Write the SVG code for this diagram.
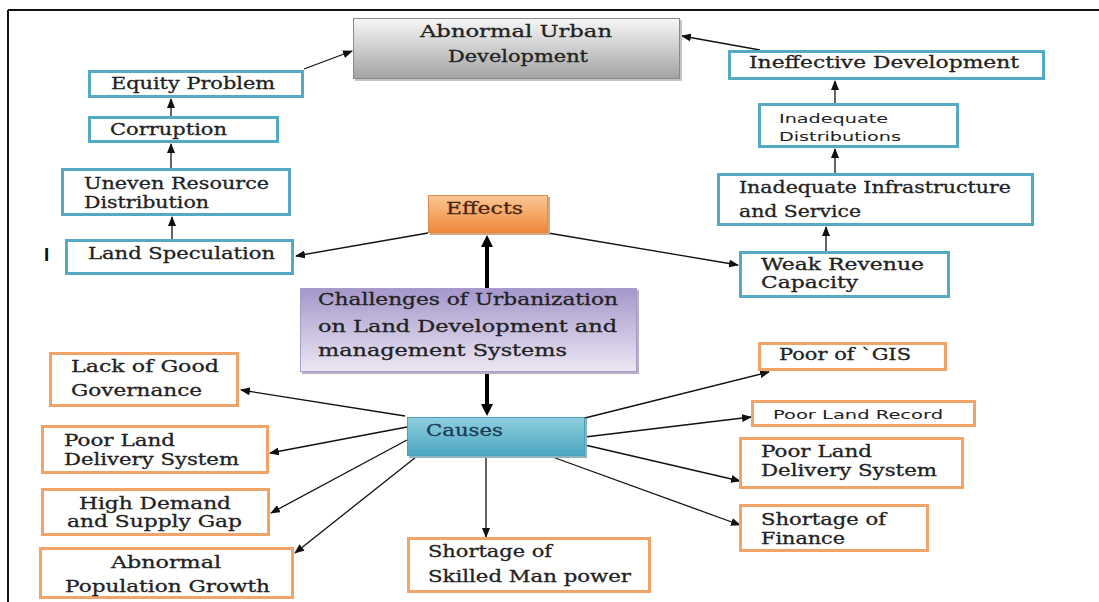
<svg xmlns="http://www.w3.org/2000/svg" width="1099" height="602" viewBox="0 0 1099 602">
<defs>
<linearGradient id="gGray" x1="0" y1="0" x2="0" y2="1"><stop offset="0" stop-color="#f7f7f7"/><stop offset="1" stop-color="#a3a3a3"/></linearGradient>
<linearGradient id="gOrange" x1="0" y1="0" x2="0" y2="1"><stop offset="0" stop-color="#fbc795"/><stop offset="1" stop-color="#f0873a"/></linearGradient>
<linearGradient id="gPurple" x1="0" y1="0" x2="0" y2="1"><stop offset="0" stop-color="#a597cb"/><stop offset="1" stop-color="#ece7f3"/></linearGradient>
<linearGradient id="gTeal" x1="0" y1="0" x2="0" y2="1"><stop offset="0" stop-color="#8fcfe0"/><stop offset="1" stop-color="#4aa6c0"/></linearGradient>
<marker id="ah" markerUnits="userSpaceOnUse" markerWidth="10" markerHeight="8" refX="9" refY="4" orient="auto"><path d="M0,0 L10,4 L0,8 z" fill="#111"/></marker>
<marker id="ahT" markerUnits="userSpaceOnUse" markerWidth="12" markerHeight="12" refX="4" refY="6" orient="auto"><path d="M0,0 L12,6 L0,12 z" fill="#000"/></marker>
<style>
.teal{fill:#fff;stroke:#55aac3;stroke-width:3}
.org{fill:#fff;stroke:#f2a468;stroke-width:3}
.t{font-family:"DejaVu Serif","Liberation Serif",serif;font-size:16.5px;fill:#222;stroke:#222;stroke-width:0.3}
.s{font-family:"DejaVu Sans","Liberation Sans",sans-serif;font-size:13px;fill:#222}
.c line{stroke:#111;stroke-width:1.3;marker-end:url(#ah)}
.c line.thick{stroke:#000;stroke-width:4;marker-end:url(#ahT)}
</style>
</defs>
<rect x="0" y="0" width="1099" height="602" fill="#fff"/>
<g id="frame"><line x1="8" y1="10" x2="1099" y2="10" stroke="#111" stroke-width="2"/><line x1="8" y1="10" x2="8" y2="602" stroke="#111" stroke-width="2"/></g>
<text x="44" y="261" font-family="Liberation Sans,sans-serif" font-weight="bold" font-size="19" fill="#111">I</text>

<g class="c" id="connectors">
<line x1="304" y1="69" x2="352" y2="51"/>
<line x1="171" y1="116" x2="171" y2="99"/>
<line x1="171" y1="168" x2="171" y2="144"/>
<line x1="172" y1="239" x2="172" y2="217"/>
<line x1="428" y1="233" x2="296" y2="256"/>
<line x1="548" y1="233" x2="738" y2="265"/>
<line x1="826" y1="251" x2="826" y2="227"/>
<line x1="835" y1="173" x2="835" y2="149"/>
<line x1="835" y1="103" x2="835" y2="81"/>
<line x1="760" y1="50" x2="682" y2="36"/>
<line class="thick" x1="487" y1="288" x2="487" y2="243"/>
<line class="thick" x1="487" y1="372" x2="487" y2="408"/>
<line x1="405" y1="416" x2="241" y2="390"/>
<line x1="407" y1="427" x2="270" y2="453"/>
<line x1="407" y1="440" x2="271" y2="513"/>
<line x1="416" y1="457" x2="295" y2="553"/>
<line x1="486" y1="456" x2="486" y2="537"/>
<line x1="585" y1="418" x2="769" y2="372"/>
<line x1="585" y1="437" x2="751" y2="417"/>
<line x1="585" y1="445" x2="740" y2="481"/>
<line x1="547" y1="455" x2="740" y2="525"/>
</g>

<g id="abnormal-urban">
<rect x="355" y="20" width="327" height="61" fill="#c4c4c4"/>
<rect x="353.5" y="18.5" width="326" height="60" fill="url(#gGray)" stroke="#8a8a8a" stroke-width="1"/>
<text class="t" x="420" y="37" textLength="192" lengthAdjust="spacingAndGlyphs" fill="#333">Abnormal  Urban</text>
<text class="t" x="448" y="62" textLength="140" lengthAdjust="spacingAndGlyphs" fill="#333">Development</text>
</g>
<g id="equity"><rect class="teal" x="89.5" y="71.5" width="213" height="25"/><text class="t" x="111" y="89" textLength="164" lengthAdjust="spacingAndGlyphs">Equity Problem</text></g>
<g id="corruption"><rect class="teal" x="89.5" y="117.5" width="188" height="24"/><text class="t" x="110" y="135" textLength="117" lengthAdjust="spacingAndGlyphs">Corruption</text></g>
<g id="uneven"><rect class="teal" x="62.5" y="169.5" width="227" height="45"/><text class="t" x="84" y="189" textLength="185" lengthAdjust="spacingAndGlyphs">Uneven Resource</text><text class="t" x="84" y="208" textLength="125" lengthAdjust="spacingAndGlyphs">Distribution</text></g>
<g id="land-speculation"><rect class="teal" x="66.5" y="240.5" width="226" height="33"/><text class="t" x="88" y="259" textLength="187" lengthAdjust="spacingAndGlyphs">Land Speculation</text></g>
<g id="effects">
<rect x="430" y="197" width="120" height="38" fill="#d9a77c"/>
<rect x="428.5" y="195.5" width="119" height="37" fill="url(#gOrange)" stroke="#e08a48" stroke-width="1"/>
<text class="t" x="446" y="214" textLength="77" lengthAdjust="spacingAndGlyphs" style="fill:#4a2510;stroke:#4a2510">Effects</text>
</g>
<g id="ineffective"><rect class="teal" x="729.5" y="51.5" width="314" height="27"/><text class="t" x="749" y="68" textLength="270" lengthAdjust="spacingAndGlyphs">Ineffective Development</text></g>
<g id="inadequate-distributions"><rect class="teal" x="759.5" y="104.5" width="198" height="42"/><text class="s" x="779" y="123" textLength="109" lengthAdjust="spacingAndGlyphs">Inadequate</text><text class="s" x="779" y="141" textLength="122" lengthAdjust="spacingAndGlyphs">Distributions</text></g>
<g id="inadequate-infrastructure"><rect class="teal" x="718.5" y="174.5" width="314" height="50"/><text class="t" x="739" y="193" textLength="272" lengthAdjust="spacingAndGlyphs">Inadequate Infrastructure</text><text class="t" x="739" y="217" textLength="122" lengthAdjust="spacingAndGlyphs">and Service</text></g>
<g id="weak-revenue"><rect class="teal" x="740.5" y="252.5" width="208" height="44"/><text class="t" x="761" y="270" textLength="163" lengthAdjust="spacingAndGlyphs">Weak Revenue</text><text class="t" x="761" y="288" textLength="97" lengthAdjust="spacingAndGlyphs">Capacity</text></g>
<g id="challenges">
<rect x="302" y="290" width="337" height="84" fill="#b8b0c8"/>
<rect x="300.5" y="288.5" width="336" height="83" fill="url(#gPurple)" stroke="#a89cc8" stroke-width="1"/>
<text class="t" x="318" y="305" textLength="300" lengthAdjust="spacingAndGlyphs">Challenges of Urbanization</text>
<text class="t" x="318" y="332" textLength="299" lengthAdjust="spacingAndGlyphs">on Land Development and</text>
<text class="t" x="318" y="356" textLength="249" lengthAdjust="spacingAndGlyphs">management Systems</text>
</g>
<g id="causes">
<rect x="409" y="419" width="178" height="39" fill="#8fb3bd"/>
<rect x="407.5" y="417.5" width="177" height="38" fill="url(#gTeal)" stroke="#4aa0b8" stroke-width="1"/>
<text class="t" x="426" y="436" textLength="77" lengthAdjust="spacingAndGlyphs" style="fill:#1d3b55;stroke:#1d3b55">Causes</text>
</g>
<g id="lack-governance"><rect class="org" x="50.5" y="353.5" width="187" height="52"/><text class="t" x="71" y="372" textLength="148" lengthAdjust="spacingAndGlyphs">Lack of Good</text><text class="t" x="71" y="396" textLength="131" lengthAdjust="spacingAndGlyphs">Governance</text></g>
<g id="pld-left"><rect class="org" x="42.5" y="426.5" width="225" height="46"/><text class="t" x="64" y="446" textLength="111" lengthAdjust="spacingAndGlyphs">Poor Land</text><text class="t" x="64" y="465" textLength="175" lengthAdjust="spacingAndGlyphs">Delivery System</text></g>
<g id="high-demand"><rect class="org" x="42.5" y="489.5" width="226" height="45"/><text class="t" x="79" y="509" textLength="152" lengthAdjust="spacingAndGlyphs">High Demand</text><text class="t" x="67" y="527" textLength="175" lengthAdjust="spacingAndGlyphs">and Supply Gap</text></g>
<g id="abnormal-population"><rect class="org" x="40.5" y="548.5" width="252" height="49"/><text class="t" x="111" y="568" textLength="110" lengthAdjust="spacingAndGlyphs">Abnormal</text><text class="t" x="65" y="592" textLength="205" lengthAdjust="spacingAndGlyphs">Population Growth</text></g>
<g id="shortage-skilled"><rect class="org" x="408.5" y="538.5" width="241" height="53"/><text class="t" x="428" y="557" textLength="124" lengthAdjust="spacingAndGlyphs">Shortage of</text><text class="t" x="428" y="582" textLength="203" lengthAdjust="spacingAndGlyphs">Skilled Man power</text></g>
<g id="gis"><rect class="org" x="759.5" y="343.5" width="186" height="26"/><text class="t" x="779" y="360" textLength="132" lengthAdjust="spacingAndGlyphs">Poor of `GIS</text></g>
<g id="land-record"><rect class="org" x="752.5" y="401.5" width="222" height="24"/><text class="s" x="773" y="419" textLength="170" lengthAdjust="spacingAndGlyphs">Poor Land Record</text></g>
<g id="pld-right"><rect class="org" x="740.5" y="438.5" width="222" height="49"/><text class="t" x="761" y="457" textLength="111" lengthAdjust="spacingAndGlyphs">Poor Land</text><text class="t" x="761" y="476" textLength="176" lengthAdjust="spacingAndGlyphs">Delivery System</text></g>
<g id="finance"><rect class="org" x="740.5" y="505.5" width="187" height="45"/><text class="t" x="761" y="525" textLength="125" lengthAdjust="spacingAndGlyphs">Shortage of</text><text class="t" x="761" y="544" textLength="84" lengthAdjust="spacingAndGlyphs">Finance</text></g>
</svg>
